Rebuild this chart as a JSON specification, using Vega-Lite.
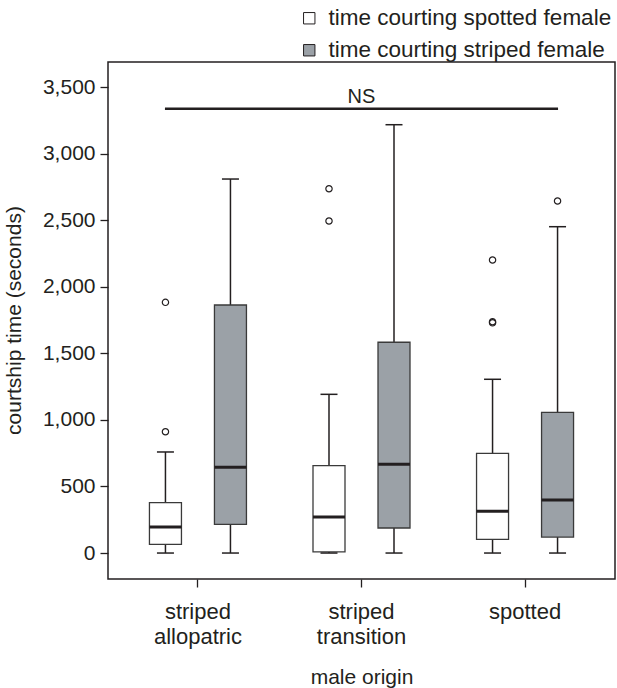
{
  "$schema": "https://vega.github.io/schema/vega-lite/v6.json",
  "autosize": {"type": "none"},
  "padding": {"left": 108, "top": 62, "right": 2, "bottom": 109},
  "width": 507,
  "height": 517,
  "config": {
    "font": "Liberation Sans",
    "view": {"stroke": "#231f20", "strokeWidth": 1.5},
    "axis": {"grid": false, "domain": false, "tickColor": "#231f20", "labelColor": "#231f20", "titleColor": "#231f20", "titleFontWeight": "normal", "tickWidth": 1.3}
  },
  "datasets": {
    "boxes": [
      {"origin": "striped allopatric", "female": "time courting spotted female", "min": 0, "q1": 65, "median": 195, "q3": 378, "max": 759},
      {"origin": "striped allopatric", "female": "time courting striped female", "min": 0, "q1": 215, "median": 644, "q3": 1863, "max": 2809},
      {"origin": "striped transition", "female": "time courting spotted female", "min": 0, "q1": 8, "median": 270, "q3": 656, "max": 1192},
      {"origin": "striped transition", "female": "time courting striped female", "min": 0, "q1": 188, "median": 666, "q3": 1583, "max": 3217},
      {"origin": "spotted", "female": "time courting spotted female", "min": 0, "q1": 103, "median": 313, "q3": 749, "max": 1305},
      {"origin": "spotted", "female": "time courting striped female", "min": 0, "q1": 120, "median": 398, "q3": 1057, "max": 2451}
    ],
    "outliers": [
      {"origin": "striped allopatric", "female": "time courting spotted female", "value": 911},
      {"origin": "striped allopatric", "female": "time courting spotted female", "value": 1883},
      {"origin": "striped transition", "female": "time courting spotted female", "value": 2494},
      {"origin": "striped transition", "female": "time courting spotted female", "value": 2736},
      {"origin": "spotted", "female": "time courting spotted female", "value": 1729},
      {"origin": "spotted", "female": "time courting spotted female", "value": 1737},
      {"origin": "spotted", "female": "time courting spotted female", "value": 2201},
      {"origin": "spotted", "female": "time courting striped female", "value": 2644}
    ],
    "ns": [
      {"start": "striped allopatric", "end": "spotted", "mid": "striped transition", "y": 3337, "label": "NS"}
    ]
  },
  "encoding": {
    "x": {
      "field": "origin", "type": "nominal",
      "sort": ["striped allopatric", "striped transition", "spotted"],
      "scale": {"domain": ["striped allopatric", "striped transition", "spotted"], "paddingInner": 0, "paddingOuter": 0.05},
      "axis": {
        "title": "male origin", "labelAngle": 0, "labelFontSize": 22, "titleFontSize": 21,
        "tickSize": 8, "labelPadding": 14, "labelLineHeight": 25,
        "labelExpr": "split(datum.label, ' ')",
        "titleY": 104, "titleBaseline": "alphabetic"
      }
    },
    "xOffset": {
      "field": "female", "type": "nominal",
      "scale": {"domain": ["time courting spotted female", "time courting striped female"], "paddingInner": 0, "paddingOuter": 0.258}
    }
  },
  "layer": [
    {
      "data": {"name": "boxes"},
      "mark": {"type": "rule", "stroke": "#231f20", "strokeWidth": 1.5},
      "encoding": {
        "y": {"field": "min", "type": "quantitative",
          "scale": {"domain": [-195, 3688], "nice": false, "zero": false},
          "axis": {"title": "courtship time (seconds)", "values": [0, 500, 1000, 1500, 2000, 2500, 3000, 3500], "format": ",d", "labelFontSize": 21, "titleFontSize": 21, "tickSize": 8, "labelPadding": 5, "titleX": -88, "titleY": 258, "titleAngle": -90, "titleBaseline": "alphabetic", "titleAlign": "center"}},
        "y2": {"field": "q1"}
      }
    },
    {
      "data": {"name": "boxes"},
      "mark": {"type": "rule", "stroke": "#231f20", "strokeWidth": 1.5},
      "encoding": {
        "y": {"field": "q3", "type": "quantitative"},
        "y2": {"field": "max"}
      }
    },
    {
      "data": {"name": "boxes"},
      "mark": {"type": "bar", "size": 32, "stroke": "#3a3a3a", "strokeWidth": 1.3},
      "encoding": {
        "y": {"field": "q1", "type": "quantitative"},
        "y2": {"field": "q3"},
        "fill": {
          "field": "female", "type": "nominal",
          "scale": {"domain": ["time courting spotted female", "time courting striped female"], "range": ["#ffffff", "#9ba1a7"]},
          "legend": {
            "title": null, "orient": "none", "legendX": 190, "legendY": -55,
            "symbolType": "square", "symbolSize": 130, "symbolStrokeColor": "#231f20", "symbolStrokeWidth": 1,
            "labelFontSize": 22.5, "labelColor": "#231f20", "labelOffset": 8, "rowPadding": 9, "labelLimit": 400
          }
        }
      }
    },
    {
      "data": {"name": "boxes"},
      "mark": {"type": "tick", "size": 32, "thickness": 3, "color": "#231f20", "opacity": 1},
      "encoding": {
        "y": {"field": "median", "type": "quantitative"}
      }
    },
    {
      "data": {"name": "boxes"},
      "mark": {"type": "tick", "size": 17, "thickness": 1.5, "color": "#231f20", "opacity": 1},
      "encoding": {
        "y": {"field": "min", "type": "quantitative"}
      }
    },
    {
      "data": {"name": "boxes"},
      "mark": {"type": "tick", "size": 17, "thickness": 1.5, "color": "#231f20", "opacity": 1},
      "encoding": {
        "y": {"field": "max", "type": "quantitative"}
      }
    },
    {
      "data": {"name": "outliers"},
      "mark": {"type": "point", "shape": "circle", "filled": false, "size": 40, "stroke": "#231f20", "strokeWidth": 1.2, "opacity": 1},
      "encoding": {
        "y": {"field": "value", "type": "quantitative"}
      }
    },
    {
      "data": {"name": "ns"},
      "mark": {"type": "rule", "stroke": "#231f20", "strokeWidth": 2.5, "xOffset": -33, "x2Offset": 33},
      "encoding": {
        "x": {"field": "start", "type": "nominal"},
        "x2": {"field": "end"},
        "xOffset": null,
        "y": {"field": "y", "type": "quantitative"}
      }
    },
    {
      "data": {"name": "ns"},
      "mark": {"type": "text", "fontSize": 20, "color": "#231f20", "baseline": "alphabetic", "dy": -6},
      "encoding": {
        "x": {"field": "mid", "type": "nominal"},
        "xOffset": null,
        "y": {"field": "y", "type": "quantitative"},
        "text": {"field": "label"}
      }
    }
  ]
}
